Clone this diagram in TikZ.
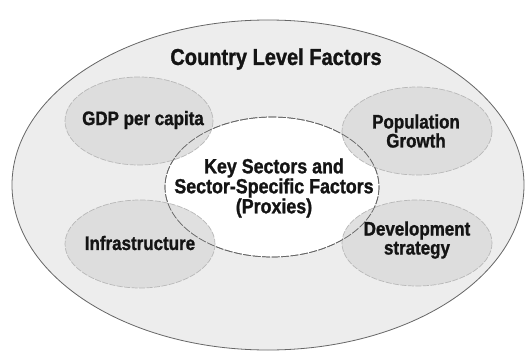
\documentclass[tikz,border=0pt]{standalone}
\usepackage{fontspec}
\setmainfont[FakeStretch=0.87,BoldFeatures={FakeBold=1.2}]{Liberation Sans}
\begin{document}
\begin{tikzpicture}[x=1pt,y=-1pt,
  outerell/.style={fill=black!7,draw=black!60,line width=0.8pt},
  factor/.style={fill=black!14,draw=black!28,dash pattern=on 6pt off 1.5pt,line width=0.7pt},
  coreline/.style={draw=black!60,line width=0.7pt,dash pattern=on 8pt off 1.5pt},
  lbl/.style={font=\bfseries\fontsize{19.5}{19}\selectfont,align=center,text=black!92,inner sep=0pt}]
\useasboundingbox (0,0) rectangle (530,353);
\fill[white] (0,0) rectangle (530,353);
\path[outerell] (268,185) ellipse [x radius=256, y radius=165];
\path[fill=white,coreline] (272,187) ellipse [x radius=107, y radius=70];
\path[factor,fill opacity=0.85] (139,121) ellipse [x radius=74, y radius=44];
\path[factor,fill opacity=0.85] (417,131) ellipse [x radius=75, y radius=44];
\path[factor,fill opacity=0.85] (140,244) ellipse [x radius=75, y radius=44];
\path[factor,fill opacity=0.85] (417,243) ellipse [x radius=75, y radius=43];
\path[coreline] (272,187) ellipse [x radius=107, y radius=70];
\node[lbl,font=\bfseries\fontsize{23}{24}\selectfont] (title) at (276,59) {Country Level Factors};
\node[lbl] (gdp) at (143,120) {GDP per capita};
\node[lbl] (pop) at (416,131) {Population\\Growth};
\node[lbl] (inf) at (140,243) {Infrastructure};
\node[lbl] (dev) at (417,240) {Development\\strategy};
\node[lbl,font=\bfseries\fontsize{20.5}{20}\selectfont] (core) at (274,188) {Key Sectors and\\Sector-Specific Factors\\(Proxies)};
\end{tikzpicture}
\end{document}
